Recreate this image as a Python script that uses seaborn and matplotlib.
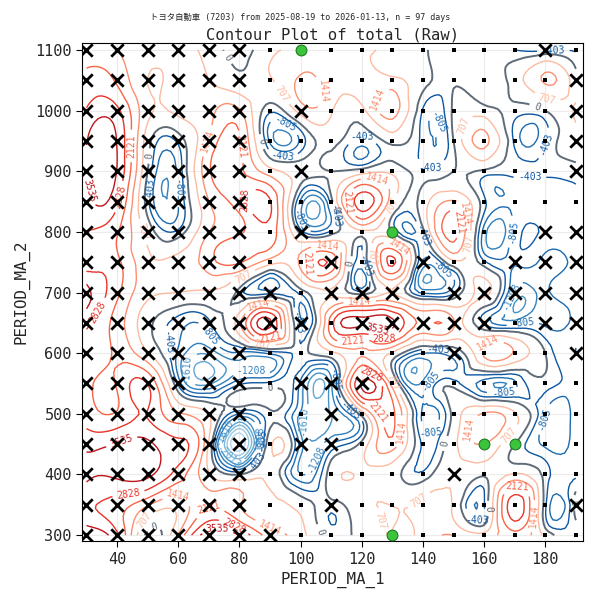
import numpy as np
import pandas as pd
import matplotlib
matplotlib.use('agg')
import matplotlib.pyplot as plt
import matplotlib.tri as mtri
import seaborn as sns

# grid of parameters
period_ma_1 = [30, 40, 50, 60, 70, 80, 90, 100, 110, 120, 130, 140, 150, 160, 170, 180, 190]
period_ma_2 = [1100, 1050, 1000, 950, 900, 850, 800, 750, 700, 650, 600, 550, 500, 450, 400, 350, 300]

# total (raw), one row per PERIOD_MA_2 value (top to bottom)
total = [
    [1700, 1400, 800, 900, 400, -200, 500, 900, 1000, 800, 500, 100, -200, -200, -400, -500, -450],
    [2300, 2000, 700, 1000, 700, 200, 600, 1500, 1100, 900, 900, 200, -100, -200, 300, 1500, 200],
    [2900, 3000, 900, 900, 1200, 1500, -300, 1000, 800, 500, 1700, -450, 100, 300, -200, 0, 800],
    [3500, 3500, 300, -300, 1500, 2200, -900, -700, 200, -600, 200, -550, 0, 1600, -500, -450, 400],
    [3600, 3500, 0, -700, 2000, 2300, 1000, 300, 0, 300, 500, -300, 0, -100, -300, -300, -200],
    [3300, 3000, -300, -800, 1400, 2500, 2900, -900, -200, 3200, 900, 300, 1500, -300, -700, -600, -500],
    [2800, 2200, 400, -300, 1400, 2000, 2500, -200, -300, 500, 0, -200, 2400, -1000, -700, -500, -600],
    [2400, 2300, 900, 1000, 1800, 2200, 1000, 1600, 2600, -500, 3000, -900, 500, -300, -700, -900, -600],
    [3800, 2300, 900, 700, 600, -200, -600, -300, 600, -300, 700, -900, -500, 900, -1300, -900, -600],
    [3000, 1800, 200, -600, -500, 1200, 3700, -700, 2500, 3700, 3700, 2000, 1500, -500, -1000, -900, -600],
    [2500, 2000, 800, -900, -1500, -900, -700, -200, 500, 1300, 600, -800, -500, 1600, 1300, 0, -400],
    [2300, 2200, 2800, -500, -1700, -500, -300, -900, -1300, 3600, 1000, -1100, -200, -1000, -900, -200, -500],
    [2500, 2200, 2800, 1500, 700, -800, -100, -1300, -1600, 300, 2300, -900, 200, 1500, 800, -800, -500],
    [3300, 3600, 3700, 3000, 600, -3600, 500, -1000, -800, 200, 1800, -500, 500, 1400, 0, -900, -500],
    [3700, 3700, 3700, 2500, 800, 0, 500, -1200, 300, 600, 300, -300, 600, 100, 800, -200, -500],
    [3000, 2500, 1500, 1000, 2000, 1500, 800, 400, -200, 500, 700, 900, 600, -450, 3300, -300, 200],
    [4000, 3000, -200, 1500, 4000, 3500, 1800, 1000, -300, 300, 700, 900, 1400, 1000, 1800, 500, -200],
]

# marker per grid point: X = cross, . = small square, o = green circle
marks = [
    "XXXXXX.o.......X.",
    "XXXXXX..........X",
    "XXXXXX.X........X",
    "XXXXXX..........X",
    "XXXXXX.X........X",
    "XXXXXX...........",
    "XXXXXX.X..o....XX",
    "XXXXXX..X..X..XXX",
    "XXXXXXX.XXX.XXXXX",
    "XXXXXXXX.XXXXX.XX",
    "XXXXXX......X...X",
    "XXXXXX.XXX.......",
    "XXXXXX..X........",
    "XXXXXX.XX....oo..",
    "XXXXXX......X....",
    "XXXXXX..X.......X",
    "XXXXXXX...o......",
]

neg_levels = [-3623, -3220, -2818, -2415, -2013, -1610, -1208, -805, -403]
pos_levels = [707, 1414, 2121, 2828, 3535, 4242]

sns.set_style("whitegrid", {"axes.edgecolor": "black", "grid.color": "#ececec",
                            "xtick.bottom": True, "ytick.left": True})
plt.rcParams['font.family'] = ['DejaVu Sans Mono', 'Noto Sans CJK JP']

xx, yy = np.meshgrid(period_ma_1, period_ma_2)
z = np.array(total, dtype=float)

# smooth the grid with matplotlib's cubic triangulation refiner
tri = mtri.Triangulation(xx.ravel() / 10.0, yy.ravel() / 50.0)
tri_f, z_f = mtri.UniformTriRefiner(tri).refine_field(z.ravel(), subdiv=3)
tri_f = mtri.Triangulation(tri_f.x * 10.0, tri_f.y * 50.0, tri_f.triangles)

fig = plt.figure(figsize=(6, 6), dpi=100)
ax = fig.add_axes([0.137, 0.098, 0.835, 0.830])

blues = plt.get_cmap('Blues')
reds = plt.get_cmap('Reds')
neg_cols = [blues(v) for v in np.linspace(0.22, 0.85, len(neg_levels))]
pos_cols = [reds(v) for v in np.linspace(0.25, 0.92, len(pos_levels))]

cn = ax.tricontour(tri_f, z_f, levels=neg_levels, colors=neg_cols, linewidths=1.0)
cz = ax.tricontour(tri_f, z_f, levels=[0], colors=['#5f6b78'], linewidths=1.4)
cp = ax.tricontour(tri_f, z_f, levels=pos_levels, colors=pos_cols, linewidths=1.0)
for cs in (cn, cz, cp):
    ax.clabel(cs, inline=True, fontsize=7, fmt=lambda v: f"{v:.0f}")

pts = pd.DataFrame({
    'PERIOD_MA_1': xx.ravel(),
    'PERIOD_MA_2': yy.ravel(),
    'mark': list("".join(marks)),
})
sns.scatterplot(data=pts[pts['mark'] == 'X'], x='PERIOD_MA_1', y='PERIOD_MA_2', marker='x',
                color='black', s=80, linewidth=2, ax=ax, zorder=5)
sns.scatterplot(data=pts[pts['mark'] == '.'], x='PERIOD_MA_1', y='PERIOD_MA_2', marker='s',
                color='black', s=6, linewidth=0, ax=ax, zorder=5)
sns.scatterplot(data=pts[pts['mark'] == 'o'], x='PERIOD_MA_1', y='PERIOD_MA_2', marker='o',
                color='#3cc43c', edgecolor='#1e7a1e', s=60, linewidth=0.8, ax=ax, zorder=6)

ax.set_xlim(28.6, 192.4)
ax.set_ylim(290, 1111)
ax.set_xticks([40, 60, 80, 100, 120, 140, 160, 180])
ax.set_yticks([300, 400, 500, 600, 700, 800, 900, 1000, 1100])
ax.tick_params(labelsize=11, length=4, color='black')
ax.set_xlabel('PERIOD_MA_1', fontsize=11.4, labelpad=4)
ax.set_ylabel('PERIOD_MA_2', fontsize=11.4, labelpad=4)
ax.set_title('Contour Plot of total (Raw)', fontsize=11.2, pad=3)
fig.suptitle('トヨタ自動車 (7203) from 2025-08-19 to 2026-01-13, n = 97 days', fontsize=6, y=0.978)

plt.savefig('out.png', dpi=100)
